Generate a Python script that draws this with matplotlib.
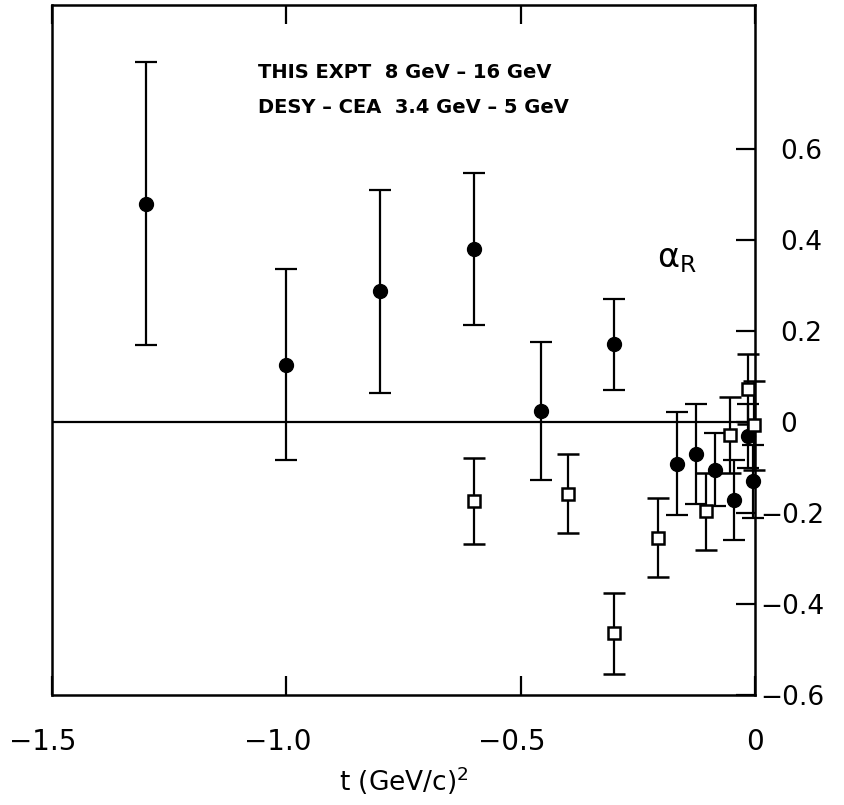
import matplotlib
matplotlib.use("Agg")
import matplotlib.pyplot as plt
import matplotlib.transforms as mtransforms

plt.rcParams['font.family'] = ['DejaVu Sans']

# this experiment (filled circles)
t_expt = [-1.30, -1.00, -0.80, -0.60, -0.456, -0.30, -0.167, -0.126, -0.085, -0.044, -0.014, -0.005]
a_expt = [0.48, 0.126, 0.287, 0.381, 0.024, 0.171, -0.092, -0.070, -0.105, -0.171, -0.031, -0.130]
e_expt = [0.31, 0.21, 0.223, 0.167, 0.151, 0.10, 0.113, 0.11, 0.08, 0.088, 0.07, 0.08]

# DESY-CEA (open squares)
t_desy = [-0.60, -0.40, -0.30, -0.206, -0.105, -0.053, -0.015, -0.002]
a_desy = [-0.174, -0.158, -0.464, -0.254, -0.196, -0.028, 0.072, -0.007]
e_desy = [0.095, 0.087, 0.089, 0.087, 0.085, 0.083, 0.077, 0.098]

xticks = [-1.5, -1.0, -0.5, 0.0]
xlabels = ['\u22121.5', '\u22121.0', '\u22120.5', '0']
yticks = [-0.6, -0.4, -0.2, 0.0, 0.2, 0.4, 0.6]
ylabels = ['\u22120.6', '\u22120.4', '\u22120.2', '0', '0.2', '0.4', '0.6']

fig = plt.figure(figsize=(8.45, 8.05), dpi=100)
ax = fig.add_axes([0.0615, 0.1366, 0.832, 0.857])

ax.axhline(0, color='black', lw=1.6, zorder=1)

ax.errorbar(t_expt, a_expt, yerr=e_expt, fmt='o', color='black', ms=10,
            elinewidth=1.6, capsize=8, capthick=1.6, zorder=3, clip_on=False)
ax.errorbar(t_desy, a_desy, yerr=e_desy, fmt='s', color='black', mfc='white',
            mec='black', mew=1.8, ms=9, elinewidth=1.6, capsize=8, capthick=1.6,
            zorder=4, clip_on=False)

ax.set_xlim(-1.5, 0.0)
ax.set_ylim(-0.6, 0.916)

for s in ax.spines.values():
    s.set_linewidth(1.8)

ax.set_xticks(xticks)
ax.set_xticklabels(xlabels, fontsize=20)
ax.set_yticks(yticks)
ax.set_yticklabels(ylabels, fontsize=19)
ax.tick_params(axis='x', direction='in', top=True, bottom=True, length=14, width=1.6, pad=24)
ax.tick_params(axis='y', direction='in', left=False, right=True, labelleft=False,
               labelright=True, length=14, width=1.6, pad=18)

# hang the minus signs so the digits line up with the ticks
for lab in ax.get_xticklabels():
    if lab.get_text().startswith('\u2212'):
        lab.set_transform(lab.get_transform() + mtransforms.ScaledTranslation(-9 / 100, 0, fig.dpi_scale_trans))
for lab in ax.get_yticklabels():
    if lab.get_text().startswith('\u2212'):
        lab.set_transform(lab.get_transform() + mtransforms.ScaledTranslation(-20 / 100, 0, fig.dpi_scale_trans))

ax.set_xlabel('t (GeV/c)$^{\\mathregular{2}}$', fontsize=19, labelpad=6)

ax.text(-0.21, 0.36, r'$\mathregular{\alpha_R}$', fontsize=24, ha='left', va='center')

ax.text(-1.06, 0.767, 'THIS EXPT  8 GeV \u2013 16 GeV', fontsize=14, fontweight='bold',
        family=['Liberation Sans Narrow', 'DejaVu Sans'], ha='left', va='center')
ax.text(-1.06, 0.69, 'DESY \u2013 CEA  3.4 GeV \u2013 5 GeV', fontsize=14, fontweight='bold',
        family=['Liberation Sans Narrow', 'DejaVu Sans'], ha='left', va='center')

fig.savefig('out.png', dpi=100)
